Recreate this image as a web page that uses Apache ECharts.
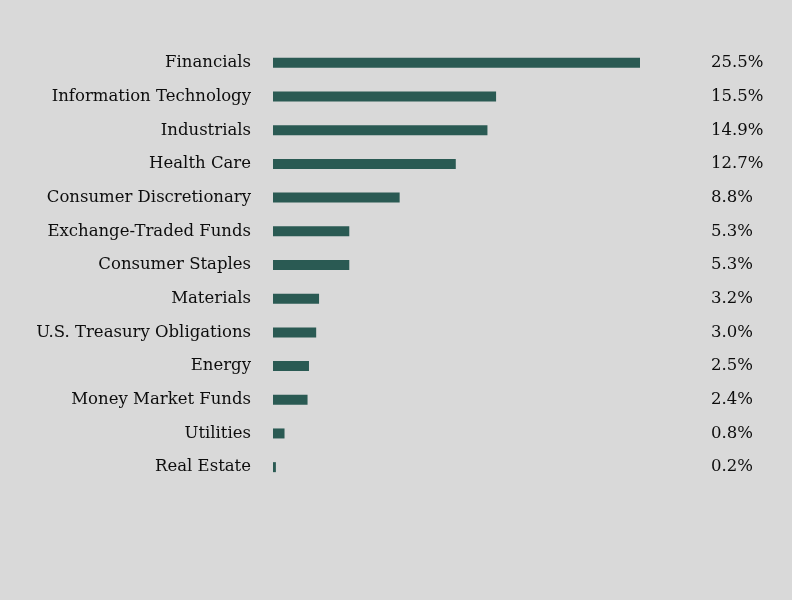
<!DOCTYPE html>
<html>
<head>
<meta charset="utf-8">
<script src="https://cdn.jsdelivr.net/npm/echarts@6/dist/echarts.min.js"></script>
<style>
  html, body { margin: 0; padding: 0; background: #d9d9d9; }
  #main { width: 792px; height: 600px; }
</style>
</head>
<body>
<div id="main"></div>
<script>
var sectors = ['Financials', 'Information Technology', 'Industrials', 'Health Care',
    'Consumer Discretionary', 'Exchange-Traded Funds', 'Consumer Staples', 'Materials',
    'U.S. Treasury Obligations', 'Energy', 'Money Market Funds', 'Utilities', 'Real Estate'];
var weights = [25.5, 15.5, 14.9, 12.7, 8.8, 5.3, 5.3, 3.2, 3.0, 2.5, 2.4, 0.8, 0.2];
var weightLabels = weights.map(function (v) { return v.toFixed(1) + '%'; });

var myChart = echarts.init(document.getElementById('main'));
var option = {
    backgroundColor: '#d9d9d9',
    animation: false,
    grid: {
        left: 273,
        top: 46,
        width: 367,
        height: 438
    },
    xAxis: {
        type: 'value',
        min: 0,
        max: 25.5,
        show: false
    },
    yAxis: [
        {
            type: 'category',
            data: sectors,
            inverse: true,
            axisLine: { show: false },
            axisTick: { show: false },
            axisLabel: {
                margin: 22,
                color: '#0d0d0d',
                fontFamily: 'DejaVu Serif',
                fontSize: 16.5
            }
        },
        {
            type: 'category',
            data: weightLabels,
            inverse: true,
            position: 'right',
            axisLine: { show: false },
            axisTick: { show: false },
            axisLabel: {
                margin: 71,
                align: 'left',
                color: '#0d0d0d',
                fontFamily: 'DejaVu Serif',
                fontSize: 16.5
            }
        }
    ],
    series: [
        {
            type: 'bar',
            data: weights,
            barWidth: 10,
            itemStyle: { color: '#2a5a53' }
        }
    ]
};
myChart.setOption(option);
</script>
</body>
</html>
